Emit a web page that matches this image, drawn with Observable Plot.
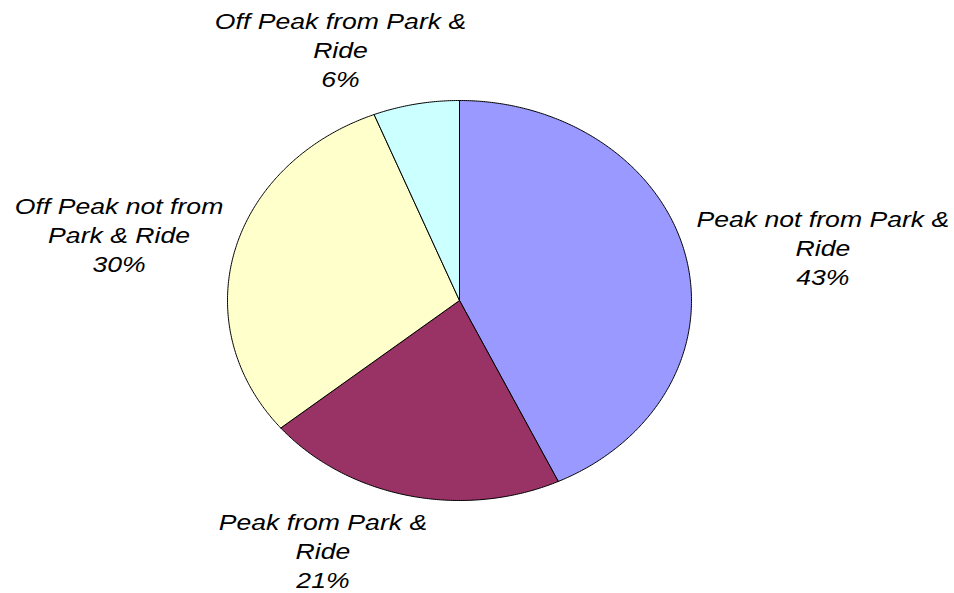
<!DOCTYPE html>
<html>
<head>
<meta charset="utf-8">
<script src="https://cdn.jsdelivr.net/npm/d3@7"></script>
<script src="https://cdn.jsdelivr.net/npm/@observablehq/plot@0.6"></script>
<style>
  html, body { margin: 0; padding: 0; background: #ffffff; }
  #chart svg { display: block; }
</style>
</head>
<body>
<div id="chart"></div>
<script>
// ---- data ----
const categories = [
  "Peak not from Park & Ride",
  "Peak from Park & Ride",
  "Off Peak not from Park & Ride",
  "Off Peak from Park & Ride"
];
const labelTexts = [
  "Peak not from Park &\nRide",
  "Peak from Park &\nRide",
  "Off Peak not from\nPark & Ride",
  "Off Peak from Park &\nRide"
];
const shares = [43, 21, 30, 6];
const colors = ["#9999FF", "#993366", "#FFFFCC", "#CCFFFF"];

// ---- layout (label placement, radial factors relative to the ellipse) ----
const labelFactor = [[1.605, 1.231], [2.698, 1.277], [1.515, 1.341], [2.737, 1.281]];

// ---- build slices from the data ----
const total = d3.sum(shares);
let acc = 0;
const slices = shares.map((v, i) => {
  const a0 = acc / total * 2 * Math.PI;
  acc += v;
  const a1 = acc / total * 2 * Math.PI;
  const n = Math.max(2, Math.ceil((a1 - a0) / (Math.PI / 360)));
  const pts = [{x: 0, y: 0}];
  for (let k = 0; k <= n; k++) {
    const a = a0 + (a1 - a0) * k / n;
    pts.push({x: Math.sin(a), y: Math.cos(a)});
  }
  pts.push({x: 0, y: 0});
  const mid = (a0 + a1) / 2;
  return {
    name: categories[i], value: v, color: colors[i], pts,
    lx: Math.sin(mid) * labelFactor[i][0],
    ly: Math.cos(mid) * labelFactor[i][1],
    label: labelTexts[i] + "\n" + v + "%"
  };
});

const plot = Plot.plot({
  width: 954,
  height: 593,
  margin: 0,
  style: {background: "#ffffff", fontFamily: "'Liberation Sans', Arial, sans-serif"},
  x: {domain: [-1, 1], range: [227, 691], axis: null},
  y: {domain: [-1, 1], range: [500, 100], axis: null},
  marks: [
    ...slices.map(s => Plot.line(s.pts, {
      x: "x", y: "y", fill: s.color, stroke: "#000000", strokeWidth: 1, strokeLinejoin: "round", curve: "linear"
    })),
    Plot.text(slices, {
      x: "lx", y: "ly", text: "label",
      fontSize: 22, fontStyle: "italic", fill: "#000000",
      textAnchor: "middle", lineAnchor: "middle", lineHeight: 1.31
    })
  ]
});

// stretch labels horizontally to match the reference's wide lettering
d3.select(plot).selectAll("g[aria-label='text'] text").each(function () {
  const t = this.getAttribute("transform");
  if (t) this.setAttribute("transform", t + " scale(1.21,1)");
});

document.getElementById("chart").appendChild(plot);
</script>
</body>
</html>
